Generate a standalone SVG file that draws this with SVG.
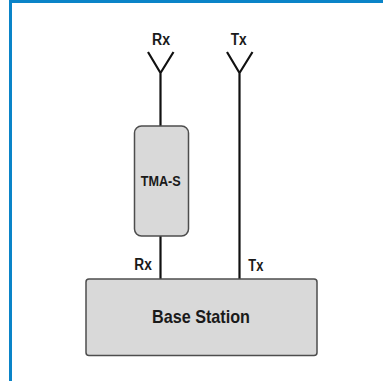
<svg xmlns="http://www.w3.org/2000/svg" width="383" height="381" viewBox="0 0 383 381">
<style>
.box{fill:#d9d9d9;stroke:#4d4d4d;stroke-width:1.5}
.wire{fill:none;stroke:#111;stroke-width:2.200}
text{font-family:"Liberation Sans",Arial,sans-serif;font-weight:bold;fill:#1a1a1a;text-anchor:middle;stroke:none}
.s{font-size:16px}
</style>
<rect width="383" height="381" fill="#fff"/>
<path d="M10.500 381V1.500H383" fill="none" stroke="#0a84c8" stroke-width="3"/>
<g id="connectors">
<path class="wire" d="M148 52L160.500 73L173.500 52M160.500 73V126"/>
<path class="wire" d="M227 52L239.500 73L252.500 52M239.500 73V279"/>
<path class="wire" d="M160.500 236V279"/>
</g>
<g id="tma"><rect class="box" x="134.500" y="126" width="54" height="110" rx="7"/><text x="160.700" y="185.500" font-size="14.500" textLength="40" lengthAdjust="spacingAndGlyphs">TMA-S</text></g>
<g id="base"><rect class="box" x="86" y="279" width="231" height="76.500" rx="3"/><text x="201" y="323" font-size="18.500" textLength="98" lengthAdjust="spacingAndGlyphs">Base Station</text></g>
<text class="s" x="161" y="45" textLength="18" lengthAdjust="spacingAndGlyphs">Rx</text>
<text class="s" x="238.700" y="45" textLength="16" lengthAdjust="spacingAndGlyphs">Tx</text>
<text class="s" x="143" y="269.500" textLength="17.500" lengthAdjust="spacingAndGlyphs">Rx</text>
<text class="s" x="255.800" y="271" textLength="15" lengthAdjust="spacingAndGlyphs">Tx</text>
</svg>
